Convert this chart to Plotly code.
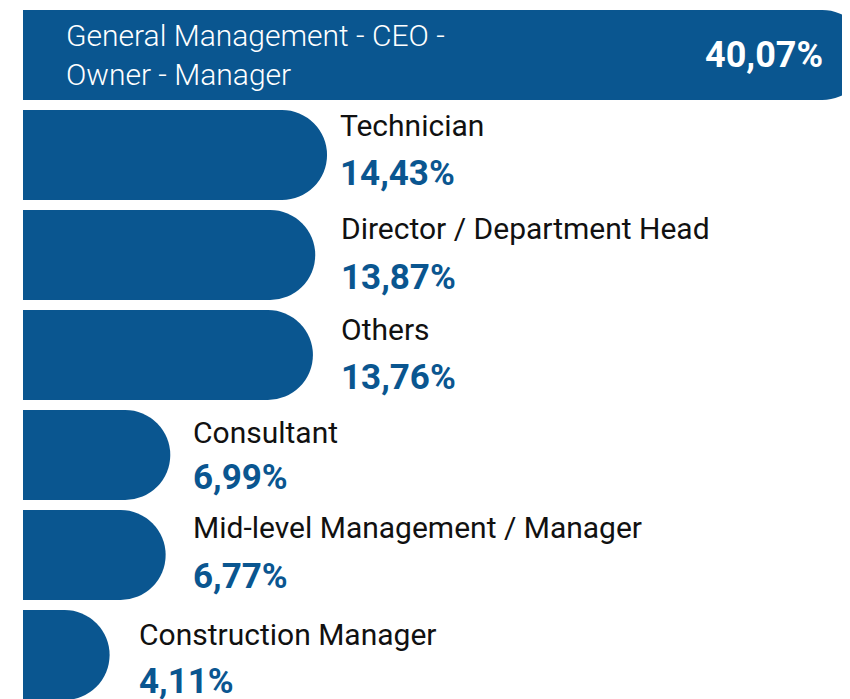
import plotly.graph_objects as go

# ---- data ----
categories = [
    "General Management - CEO - Owner - Manager",
    "Technician",
    "Director / Department Head",
    "Others",
    "Consultant",
    "Mid-level Management / Manager",
    "Construction Manager",
]
values = [40.07, 14.43, 13.87, 13.76, 6.99, 6.77, 4.11]
first_label_lines = ["General Management - CEO -", "Owner - Manager"]

# ---- style ----
BLUE = "#0a5690"
FONT = "Roboto"
OFF = 8                    # browser body margin
W, H = 850 - OFF, 699 - OFF
PX_PER_UNIT = 21.07
X0_PX = 23 - OFF

def fmt(v):
    return f"{v:.2f}".replace(".", ",") + "%"

ypos = list(range(len(values)))

fig = go.Figure(
    go.Bar(
        x=values,
        y=ypos,
        orientation="h",
        width=0.9,
        marker=dict(color=BLUE, line=dict(width=0)),
        hoverinfo="skip",
    )
)

# label placement for outside labels (data-unit x, pixel y shifts)
label_x = [None, 14.95, 15.0, 15.0, 7.95, 7.95, 5.4]
cat_shift = [None, 30, 27, 26, 23, 28, 21]
val_shift = [None, -18, -22, -22, -22, -21, -26]

annotations = []
# first bar: labels inside, white
annotations.append(dict(
    xref="paper", yref="y", x=(64 - OFF) / W, y=0, xanchor="left", yanchor="middle",
    text="<br>".join(first_label_lines), align="left", showarrow=False,
    font=dict(family=FONT, size=30, color="white", weight=300),
))
annotations.append(dict(
    xref="paper", yref="y", x=(825 - OFF) / W, y=0, xanchor="right", yanchor="middle",
    text=fmt(values[0]), showarrow=False,
    font=dict(family=FONT, size=36, color="white", weight=700),
))
for i in range(1, len(values)):
    annotations.append(dict(
        xref="x", yref="y", x=label_x[i], y=ypos[i], xanchor="left", yanchor="middle",
        yshift=cat_shift[i], text=categories[i], showarrow=False,
        font=dict(family=FONT, size=30, color="#111111", weight=400),
    ))
    annotations.append(dict(
        xref="x", yref="y", x=label_x[i], y=ypos[i], xanchor="left", yanchor="middle",
        yshift=val_shift[i], text=fmt(values[i]), showarrow=False,
        font=dict(family=FONT, size=35, color=BLUE, weight=700),
    ))

fig.update_layout(
    width=W, height=H,
    margin=dict(l=0, r=0, t=0, b=0),
    paper_bgcolor="white", plot_bgcolor="white",
    showlegend=False,
    barcornerradius=45,
    xaxis=dict(range=[-X0_PX / PX_PER_UNIT, (W - X0_PX) / PX_PER_UNIT],
               visible=False, showgrid=False, zeroline=False),
    yaxis=dict(range=[(H - (55 - OFF)) / 100, -(55 - OFF) / 100],
               visible=False, showgrid=False, zeroline=False),
    annotations=annotations,
)

fig.write_html("out.html")
